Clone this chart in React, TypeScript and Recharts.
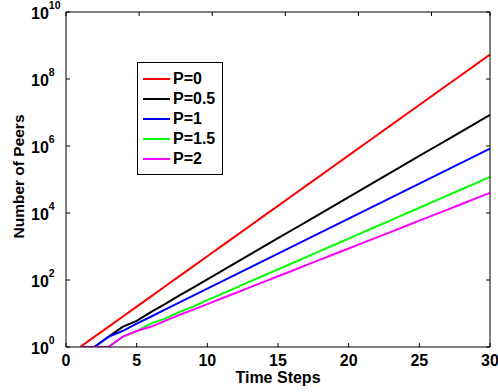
import { LineChart, Line, XAxis, YAxis, Legend } from "recharts";

// time steps and number of peers for each P value
const steps = [1, 2, 3, 4, 5, 6, 7, 8, 9, 10, 11, 12, 13, 14, 15, 16, 17, 18, 19, 20, 21, 22, 23, 24, 25, 26, 27, 28, 29, 30];
const peersP0 = [1, 2, 4, 8, 16, 32, 64, 128, 256, 512, 1024, 2048, 4096, 8192, 16384, 32768, 65536, 131072, 262144, 524288, 1048576, 2097152, 4194304, 8388608, 16777216, 33554432, 67108864, 134217728, 268435456, 536870912];
const peersP05 = [1, 1, 2, 4, 6, 11, 19, 34, 59, 105, 184, 324, 570, 1004, 1766, 3110, 5470, 9638, 16943, 29850, 52480, 92470, 162550, 286420, 503500, 887150, 1559600, 2747900, 4830600, 8511400];
const peersP1 = [1, 1, 2, 3, 5, 8, 13, 21, 34, 55, 89, 144, 233, 377, 610, 987, 1597, 2584, 4181, 6765, 10946, 17711, 28657, 46368, 75025, 121393, 196418, 317811, 514229, 832040];
const peersP15 = [1, 1, 1, 2, 3, 5, 7, 11, 16, 25, 38, 58, 89, 136, 207, 317, 484, 740, 1130, 1726, 2636, 4027, 6152, 9397, 14355, 21928, 33497, 51170, 78163, 119399];
const peersP2 = [1, 1, 1, 2, 3, 4, 6, 9, 13, 19, 28, 41, 60, 88, 129, 189, 277, 406, 595, 872, 1278, 1873, 2745, 4023, 5896, 8641, 12664, 18560, 27201, 39865];

const xTicks = [0, 5, 10, 15, 20, 25, 30];
const yTicks = [1, 1e2, 1e4, 1e6, 1e8, 1e10];

const series = [
  { key: "p0", name: "P=0", color: "#ff0000" },
  { key: "p05", name: "P=0.5", color: "#000000" },
  { key: "p1", name: "P=1", color: "#0000ff" },
  { key: "p15", name: "P=1.5", color: "#00ff00" },
  { key: "p2", name: "P=2", color: "#ff00ff" },
];

const data = steps.map((t, i) => ({
  t,
  p0: peersP0[i],
  p05: peersP05[i],
  p1: peersP1[i],
  p15: peersP15[i],
  p2: peersP2[i],
}));

const FONT = "'Liberation Sans', Arial, Helvetica, sans-serif";

const BottomTick = (props: any) => {
  const { x, y, payload } = props;
  return (
    <g>
      <line x1={x} y1={y} x2={x} y2={y - 4} stroke="#000" />
      <text x={x} y={y + 19} textAnchor="middle" fontFamily={FONT} fontWeight="bold" fontSize={16} fill="#000">
        {payload.value}
      </text>
    </g>
  );
};

const TopTick = (props: any) => {
  const { x, y } = props;
  return <line x1={x} y1={y} x2={x} y2={y + 4} stroke="#000" />;
};

const LeftTick = (props: any) => {
  const { x, y, payload } = props;
  const exp = Math.round(Math.log10(payload.value));
  return (
    <g>
      <line x1={x} y1={y} x2={x + 4} y2={y} stroke="#000" />
      <text x={x - 35} y={y + 7} textAnchor="start" fontFamily={FONT} fontWeight="bold" fontSize={16} fill="#000">
        10
        <tspan dy={-10} fontSize={10.5}>{exp}</tspan>
      </text>
    </g>
  );
};

const RightTick = (props: any) => {
  const { x, y } = props;
  return <line x1={x} y1={y} x2={x - 4} y2={y} stroke="#000" />;
};

const XTitle = (props: any) => {
  const { viewBox } = props;
  const cx = viewBox.x + viewBox.width / 2;
  return (
    <text x={cx} y={viewBox.y + 36} textAnchor="middle" fontFamily={FONT} fontWeight="bold" fontSize={16} fill="#000">
      Time Steps
    </text>
  );
};

const YTitle = (props: any) => {
  const { viewBox } = props;
  const cy = viewBox.y + viewBox.height / 2 - 3;
  return (
    <text x={24} y={cy} transform={`rotate(-90, 24, ${cy})`} textAnchor="middle" fontFamily={FONT} fontWeight="bold" fontSize={15.5} fill="#000">
      Number of Peers
    </text>
  );
};

const LegendBox = (props: any) => {
  const { payload } = props;
  return (
    <div
      style={{
        boxSizing: "border-box",
        width: 86,
        height: 113,
        border: "1px solid #000",
        background: "#fff",
        padding: "6px 0 0 5px",
        fontFamily: FONT,
        fontWeight: "bold",
        fontSize: 16,
      }}
    >
      {payload.map((p: any) => (
        <div key={p.value} style={{ display: "flex", alignItems: "center", height: 20 }}>
          <svg width={28} height={20}>
            <line x1={0} y1={10} x2={27} y2={10} stroke={p.color} strokeWidth={2} />
          </svg>
          <span style={{ marginLeft: 2, lineHeight: "20px" }}>{p.value}</span>
        </div>
      ))}
    </div>
  );
};

export default function App() {
  return (
    <div style={{ position: "absolute", left: 0, top: 0, background: "#fff" }}>
      <LineChart width={498} height={392} data={data} margin={{ top: 0, right: 0, left: 0, bottom: 0 }}>
        <XAxis
          xAxisId="b"
          dataKey="t"
          type="number"
          domain={[0, 30]}
          ticks={xTicks}
          height={45}
          tickSize={0}
          tickMargin={0}
          tickLine={false}
          tick={<BottomTick />}
          axisLine={{ stroke: "#000" }}
          label={<XTitle />}
        />
        <XAxis
          xAxisId="top"
          orientation="top"
          type="number"
          domain={[0, 30]}
          allowDataOverflow
          ticks={xTicks}
          height={12}
          tickSize={0}
          tickMargin={0}
          tickLine={false}
          tick={<TopTick />}
          axisLine={{ stroke: "#000" }}
        />
        <YAxis
          yAxisId="l"
          scale="log"
          type="number"
          domain={[1, 1e10]}
          allowDataOverflow
          ticks={yTicks}
          width={66}
          tickSize={0}
          tickMargin={0}
          tickLine={false}
          tick={<LeftTick />}
          axisLine={{ stroke: "#000" }}
          label={<YTitle />}
        />
        <YAxis
          yAxisId="r"
          orientation="right"
          scale="log"
          type="number"
          domain={[1, 1e10]}
          allowDataOverflow
          ticks={yTicks}
          width={8}
          tickSize={0}
          tickMargin={0}
          tickLine={false}
          tick={<RightTick />}
          axisLine={{ stroke: "#000" }}
        />
        <Legend
          layout="vertical"
          align="center"
          verticalAlign="middle"
          content={<LegendBox />}
          wrapperStyle={{ left: 137, top: 62, width: 86, height: 113 }}
        />
        {series.map((s) => (
          <Line
            key={s.key}
            xAxisId="b"
            yAxisId="l"
            dataKey={s.key}
            name={s.name}
            type="linear"
            stroke={s.color}
            strokeWidth={2}
            dot={false}
            isAnimationActive={false}
          />
        ))}
      </LineChart>
    </div>
  );
}
